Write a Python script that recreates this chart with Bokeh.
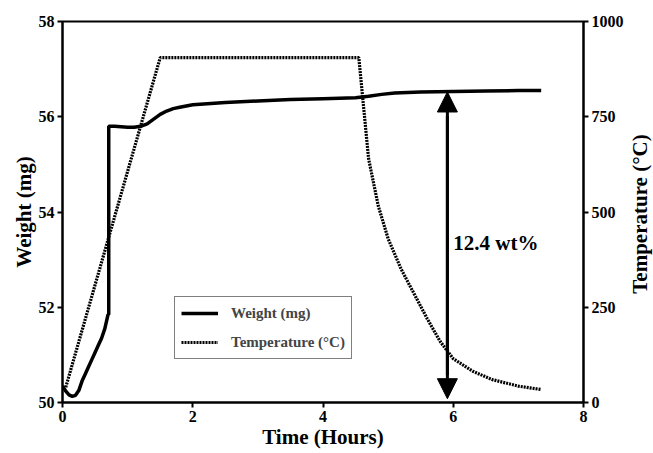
from bokeh.plotting import figure
from bokeh.layouts import row
from bokeh.models import (Range1d, LinearAxis, FixedTicker, Legend, LegendItem,
                          Label, Arrow, NormalHead, Div)
from bokeh.embed import file_html
from bokeh.resources import INLINE

# ---- data ----
weight_time = [0.0, 0.05, 0.1, 0.15, 0.2, 0.25, 0.3, 0.35, 0.4, 0.45, 0.5, 0.55,
               0.6, 0.65, 0.70, 0.71, 0.71, 0.8, 0.9, 1.0, 1.1, 1.2, 1.3, 1.4,
               1.5, 1.6, 1.7, 1.8, 2.0, 2.5, 3.0, 3.5, 4.0, 4.5, 4.7, 4.9,
               5.1, 5.5, 6.0, 6.5, 7.0, 7.35]
weight_mg = [50.35, 50.24, 50.16, 50.13, 50.15, 50.25, 50.45, 50.6, 50.75, 50.9,
             51.05, 51.2, 51.35, 51.55, 51.85, 51.85, 55.8, 55.8, 55.79, 55.78,
             55.78, 55.8, 55.85, 55.95, 56.05, 56.12, 56.17, 56.2, 56.25, 56.3,
             56.33, 56.36, 56.38, 56.4, 56.43, 56.47, 56.5, 56.52, 56.53, 56.54,
             56.55, 56.55]

temp_time = [0.05, 1.5, 4.55, 4.7, 4.85, 5.0, 5.2, 5.4, 5.6, 5.8, 6.0, 6.3,
             6.6, 7.0, 7.35]
temp_c = [40, 905, 905, 640, 515, 430, 350, 285, 220, 160, 115, 82, 60, 43, 34]

x_ticks = [0, 2, 4, 6, 8]
w_ticks = [50, 52, 54, 56, 58]
t_ticks = [0, 250, 500, 750, 1000]

arrow_time = 5.91
arrow_top = 56.52
arrow_bottom = 50.08
annot_text = "12.4 wt%"
annot_time = 6.0
annot_weight = 53.34

FONT = "Liberation Serif"

p = figure(width=626, height=453, output_backend="svg", toolbar_location=None,
           x_range=Range1d(0, 8), y_range=Range1d(50, 58),
           min_border_left=62, min_border_right=43, min_border_top=21,
           min_border_bottom=51)
p.extra_y_ranges = {"temp": Range1d(0, 1000)}

p.grid.visible = False
p.outline_line_color = "black"
p.outline_line_width = 2
p.background_fill_color = "white"
p.border_fill_color = "white"

r_w = p.line(weight_time, weight_mg, line_color="black", line_width=3.5)
r_t = p.line(temp_time, temp_c, line_color="black", line_width=3.2,
             line_dash="2 1", y_range_name="temp")

right = LinearAxis(y_range_name="temp")
p.add_layout(right, "right")

p.xaxis.ticker = FixedTicker(ticks=x_ticks)
p.yaxis[0].ticker = FixedTicker(ticks=w_ticks)
right.ticker = FixedTicker(ticks=t_ticks)

for ax in p.axis:
    ax.axis_line_width = 2
    ax.axis_line_color = "black"
    ax.major_tick_line_width = 2
    ax.major_tick_out = 5
    ax.major_tick_in = 0
    ax.minor_tick_line_color = None
    ax.major_label_text_font = FONT
    ax.major_label_text_font_style = "bold"
    ax.major_label_text_font_size = "16px"
    ax.major_label_text_color = "black"
    ax.axis_label_text_font = FONT
    ax.axis_label_text_font_style = "bold"
    ax.axis_label_text_font_size = "21px"
    ax.axis_label_text_color = "black"
    ax.axis_label_standoff = 0

p.xaxis.major_label_standoff = 3
p.yaxis[0].major_label_standoff = 3
right.major_label_standoff = 3

p.xaxis.axis_label = "Time (Hours)"
p.yaxis[0].axis_label = "Weight (mg)"

# arrow annotation
p.add_layout(Arrow(x_start=arrow_time, y_start=arrow_bottom + 0.5,
                   x_end=arrow_time, y_end=arrow_top,
                   line_width=3, line_color="black",
                   end=NormalHead(size=20, fill_color="black", line_color="black")))
p.add_layout(Arrow(x_start=arrow_time, y_start=arrow_top - 0.5,
                   x_end=arrow_time, y_end=arrow_bottom,
                   line_width=3, line_color="black",
                   end=NormalHead(size=20, fill_color="black", line_color="black")))
p.add_layout(Label(x=annot_time, y=annot_weight, text=annot_text,
                   text_font=FONT, text_font_style="bold", text_font_size="21px",
                   text_color="black", text_baseline="middle"))

legend = Legend(items=[LegendItem(label="Weight (mg)", renderers=[r_w]),
                       LegendItem(label="Temperature (°C)", renderers=[r_t])],
                location=(112, 43))
legend.label_text_font = FONT
legend.label_text_font_style = "bold"
legend.label_text_font_size = "15px"
legend.border_line_color = "black"
legend.border_line_width = 1.5
legend.padding = 6
legend.spacing = 9
legend.glyph_width = 37
legend.glyph_height = 20
legend.label_height = 20
legend.label_standoff = 13
legend.margin = 0
legend.background_fill_alpha = 1
p.add_layout(legend, "center")

# right-hand axis title, reading bottom to top
right_title = Div(
    text=('<div style="position:relative;width:27px;height:453px;">'
          '<div style="position:absolute;left:50%;top:214px;'
          'transform:translate(-50%,-50%) rotate(-90deg);white-space:nowrap;'
          "font-family:'Liberation Serif';font-weight:bold;font-size:21px;"
          'color:black;">Temperature (°C)</div></div>'),
    width=27, height=453, margin=0)

layout = row(p, right_title, spacing=0)

open("out.html", "w").write(file_html(layout, INLINE))
